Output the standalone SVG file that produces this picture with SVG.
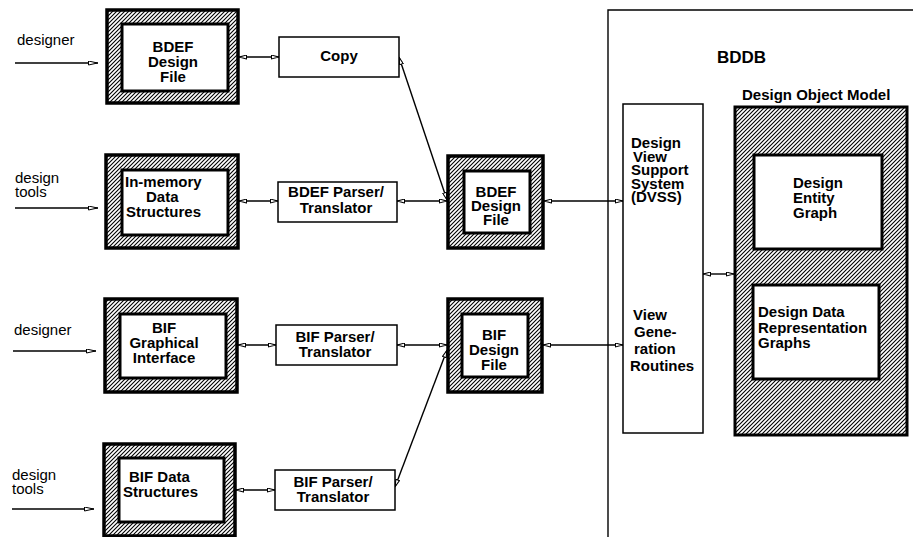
<svg xmlns="http://www.w3.org/2000/svg" width="913" height="537" viewBox="0 0 913 537">
<style>
.t{font-family:"Liberation Sans",Arial,sans-serif;font-size:15px;font-weight:bold;fill:#000}
.n{font-family:"Liberation Sans",Arial,sans-serif;font-size:15px;fill:#000}
.c{text-anchor:middle}
.hat{fill:url(#hatch);stroke:#000;stroke-width:3.5}
.inr{fill:#fff;stroke:#000;stroke-width:3}
.box{fill:#fff;stroke:#000;stroke-width:1.5}
.ln{fill:none;stroke:#000;stroke-width:1.4}
.bi{marker-start:url(#arr);marker-end:url(#arr)}
.one{marker-end:url(#arrL)}
</style>
<defs>
<pattern id="hatch" patternUnits="userSpaceOnUse" width="4" height="4">
<rect width="4" height="4" fill="#fff"/>
<path d="M-1,1 L1,-1 M0,4 L4,0 M3,5 L5,3" stroke="#000" stroke-width="1.1"/>
</pattern>
<marker id="arr" viewBox="0 0 10 6" refX="10" refY="3" markerWidth="8" markerHeight="5" markerUnits="userSpaceOnUse" orient="auto-start-reverse">
<path d="M0.6,0.6 L9.4,3 L0.6,5.4 Z" fill="#fff" stroke="#000" stroke-width="1.3"/>
</marker>
<marker id="arrL" viewBox="0 0 12 6" refX="12" refY="3" markerWidth="12" markerHeight="5" markerUnits="userSpaceOnUse" orient="auto">
<path d="M0.6,0.6 L11.4,3 L0.6,5.4 Z" fill="#fff" stroke="#000" stroke-width="1.2"/>
</marker>
</defs>
<rect width="913" height="537" fill="#fff"/>

<g id="connectors">
<path class="ln" d="M608,537 V10 H913"/>
<path class="ln one" d="M15,63 H98"/>
<path class="ln one" d="M15,208 H98"/>
<path class="ln one" d="M13,351 H96"/>
<path class="ln one" d="M12,509 H94"/>
<path class="ln bi" d="M239,57 H279"/>
<path class="ln bi" d="M239,201 H278"/>
<path class="ln bi" d="M238,345 H276"/>
<path class="ln bi" d="M236,490 H275"/>
<path class="ln bi" d="M399,57 L447,200"/>
<path class="ln bi" d="M397,201 H447"/>
<path class="ln bi" d="M397,345 H447"/>
<path class="ln bi" d="M395,487 L447,350"/>
<path class="ln bi" d="M544,201 H623"/>
<path class="ln bi" d="M543,345 H623"/>
<path class="ln bi" d="M703,274 H734"/>
</g>

<g id="labels">
<text class="n" x="17" y="45">designer</text>
<text class="n" x="15" y="183">design</text>
<text class="n" x="15" y="197">tools</text>
<text class="n" x="14" y="335">designer</text>
<text class="n" x="12" y="480">design</text>
<text class="n" x="12" y="494">tools</text>
</g>

<g id="bdef-file-top">
<rect class="hat" x="107" y="10" width="131" height="93"/>
<rect class="inr" x="122" y="24" width="106" height="67"/>
<text class="t c" x="173" y="52">BDEF</text>
<text class="t c" x="173" y="67">Design</text>
<text class="t c" x="173" y="82">File</text>
</g>

<g id="inmemory">
<rect class="hat" x="106" y="155" width="132" height="93"/>
<rect class="inr" x="122" y="170" width="106" height="65"/>
<text class="t" x="125" y="187">In-memory</text>
<text class="t" x="146" y="202">Data</text>
<text class="t" x="126" y="217">Structures</text>
</g>

<g id="bif-gui">
<rect class="hat" x="105" y="299" width="132" height="93"/>
<rect class="inr" x="120" y="314" width="106" height="64"/>
<text class="t c" x="164" y="333">BIF</text>
<text class="t c" x="164" y="348">Graphical</text>
<text class="t c" x="164" y="363">Interface</text>
</g>

<g id="bif-data">
<rect class="hat" x="104" y="444" width="131" height="92"/>
<rect class="inr" x="119" y="458" width="105" height="64"/>
<text class="t" x="129" y="482">BIF Data</text>
<text class="t" x="123" y="497">Structures</text>
</g>

<g id="copy">
<rect class="box" x="279" y="37" width="120" height="40"/>
<text class="t c" x="339" y="61">Copy</text>
</g>

<g id="bdef-parser">
<rect class="box" x="278" y="182" width="119" height="40"/>
<text class="t c" x="336" y="197">BDEF Parser/</text>
<text class="t c" x="336" y="213">Translator</text>
</g>

<g id="bif-parser-1">
<rect class="box" x="276" y="325" width="121" height="40"/>
<text class="t c" x="335" y="342">BIF Parser/</text>
<text class="t c" x="335" y="357">Translator</text>
</g>

<g id="bif-parser-2">
<rect class="box" x="275" y="470" width="120" height="40"/>
<text class="t c" x="333" y="487">BIF Parser/</text>
<text class="t c" x="333" y="502">Translator</text>
</g>

<g id="bdef-file-mid">
<rect class="hat" x="448" y="156" width="95" height="92"/>
<rect class="inr" x="464" y="171" width="66" height="62"/>
<text class="t c" x="496" y="197">BDEF</text>
<text class="t c" x="496" y="211">Design</text>
<text class="t c" x="496" y="225">File</text>
</g>

<g id="bif-file">
<rect class="hat" x="448" y="299" width="94" height="93"/>
<rect class="inr" x="462" y="314" width="66" height="63"/>
<text class="t c" x="494" y="340">BIF</text>
<text class="t c" x="494" y="355">Design</text>
<text class="t c" x="494" y="370">File</text>
</g>

<g id="bddb">
<text class="t" x="717" y="63" style="font-size:17px">BDDB</text>
</g>

<g id="dvss">
<rect class="box" x="623" y="104" width="80" height="329"/>
<text class="t" x="631" y="148">Design</text>
<text class="t" x="633" y="162">View</text>
<text class="t" x="631" y="175">Support</text>
<text class="t" x="631" y="189">System</text>
<text class="t" x="631" y="202">(DVSS)</text>
<text class="t" x="633" y="320">View</text>
<text class="t" x="634" y="337">Gene-</text>
<text class="t" x="634" y="354">ration</text>
<text class="t" x="630" y="371">Routines</text>
</g>

<g id="design-object-model">
<text class="t" x="742" y="100">Design Object Model</text>
<rect class="hat" x="735" y="107" width="172" height="328" style="stroke-width:3"/>
<g id="design-entity-graph">
<rect class="inr" x="754" y="155" width="128" height="94"/>
<text class="t" x="793" y="188">Design</text>
<text class="t" x="793" y="203">Entity</text>
<text class="t" x="793" y="218">Graph</text>
</g>
<g id="design-data-graphs">
<rect class="inr" x="753" y="285" width="126" height="94"/>
<text class="t" x="758" y="317">Design Data</text>
<text class="t" x="758" y="333">Representation</text>
<text class="t" x="758" y="348">Graphs</text>
</g>
</g>
</svg>
